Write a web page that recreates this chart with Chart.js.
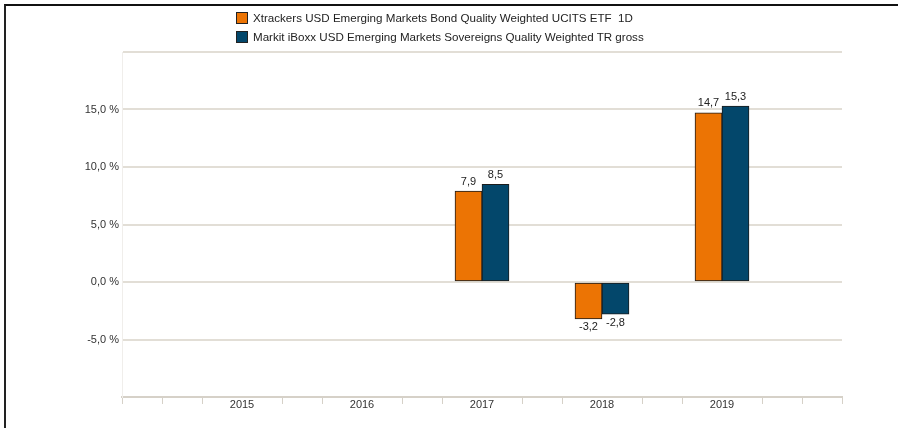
<!DOCTYPE html>
<html>
<head>
<meta charset="utf-8">
<script src="https://cdn.jsdelivr.net/npm/chart.js@4"></script>
<style>
  html, body { margin: 0; padding: 0; background: #fff; }
  #wrap { position: relative; width: 898px; height: 428px; overflow: hidden; }
  #frame { position: absolute; left: 4px; top: 4px; right: -10px; bottom: -10px;
           border-top: 2px solid #111; border-left: 2px solid #222; pointer-events: none; }
  #legend { position: absolute; left: 236px; top: 8px; font: 11.6px "Liberation Sans", Arial, sans-serif; color: #222; }
  .item { display: flex; align-items: center; height: 19px; white-space: pre; }
  .box { width: 10px; height: 10px; border: 1px solid #222; margin-right: 5px; }
</style>
</head>
<body>
<div id="wrap">
  <canvas id="barChart" width="898" height="428"></canvas>
  <div id="legend"></div>
  <div id="frame"></div>
</div>
<script>
const years = ["2015", "2016", "2017", "2018", "2019"];
const etfValues = [null, null, 7.9, -3.2, 14.7];
const indexValues = [null, null, 8.5, -2.8, 15.3];
const seriesNames = [
  "Xtrackers USD Emerging Markets Bond Quality Weighted UCITS ETF  1D",
  "Markit iBoxx USD Emerging Markets Sovereigns Quality Weighted TR gross",
];
const colors = ["#ec7404", "#03476b"];

// each year gets 3 small slots so the axis shows the minor tick marks
const SUB = 3;
const labels = [], etfData = [], indexData = [];
for (let i = 0; i <= (years.length + 1) * SUB; i++) {
  const k = i / SUB - 1;
  const isYear = i % SUB === 0 && k >= 0 && k < years.length;
  labels.push(isYear ? years[k] : "");
  etfData.push(isYear ? etfValues[k] : null);
  indexData.push(isYear ? indexValues[k] : null);
}

const fmt = (v) => v.toFixed(1).replace(".", ",");
const font = "Liberation Sans, Arial, sans-serif";

const valueLabels = {
  id: "valueLabels",
  afterDatasetsDraw(chart) {
    const ctx = chart.ctx;
    ctx.save();
    ctx.font = "11px " + font;
    ctx.fillStyle = "#222";
    ctx.textAlign = "center";
    chart.data.datasets.forEach((ds, di) => {
      chart.getDatasetMeta(di).data.forEach((bar, i) => {
        const v = ds.data[i];
        if (v === null) return;
        if (v >= 0) {
          ctx.textBaseline = "bottom";
          ctx.fillText(fmt(v), bar.x, bar.y - 4);
        } else {
          ctx.textBaseline = "top";
          ctx.fillText(fmt(v), bar.x, bar.y + 3);
        }
      });
    });
    ctx.restore();
  },
};

const legendEl = document.getElementById("legend");
seriesNames.forEach((name, i) => {
  const row = document.createElement("div");
  row.className = "item";
  row.innerHTML = '<span class="box" style="background:' + colors[i] + '"></span>';
  row.appendChild(document.createTextNode(name));
  legendEl.appendChild(row);
});

new Chart(document.getElementById("barChart"), {
  type: "bar",
  data: {
    labels: labels,
    datasets: [
      { label: seriesNames[0], data: etfData, backgroundColor: colors[0] },
      { label: seriesNames[1], data: indexData, backgroundColor: colors[1] },
    ],
  },
  options: {
    responsive: false,
    animation: false,
    layout: { padding: { left: 10, right: 56, top: 52, bottom: 0 } },
    elements: {
      bar: { borderColor: "#1c1c1c", borderWidth: 1, borderSkipped: false },
    },
    datasets: { bar: { barThickness: 27 } },
    plugins: {
      legend: { display: false },
      tooltip: { enabled: false },
    },
    scales: {
      x: {
        offset: false,
        afterFit: (scale) => { scale.height = 31; },
        grid: {
          offset: false, drawOnChartArea: false, drawTicks: true, tickLength: 7,
          color: (c) => (labels[c.index] ? "rgba(0,0,0,0)" : "#d6d1c8"),
        },
        border: { display: true, color: "#d6d1c8", width: 2 },
        ticks: {
          autoSkip: false, maxRotation: 0, padding: -6,
          color: "#333", font: { family: font, size: 11 },
        },
      },
      y: {
        min: -10,
        max: 20,
        afterFit: (scale) => { scale.width = 112; },
        grid: { color: "#e2ded6", lineWidth: 2, drawTicks: false },
        border: { display: true, color: "#f0eeeb", width: 1 },
        ticks: {
          stepSize: 5, padding: 3, color: "#333",
          font: { family: font, size: 11 },
          callback: (v) => (v === 20 || v === -10 ? "" : fmt(v) + " %"),
        },
      },
    },
  },
  plugins: [valueLabels],
});
</script>
</body>
</html>
